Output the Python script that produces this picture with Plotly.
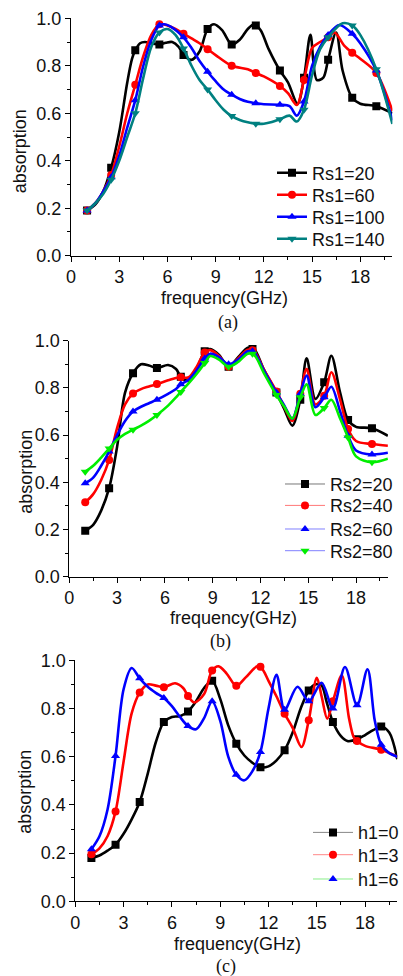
import plotly.graph_objects as go

# ---------------- data ----------------
marker_freq = [1, 2.5, 4, 5.5, 7, 8.5, 10, 11.5, 13, 14.5, 16, 17.5, 19]

# panel (a)
a_labels = ["Rs1=20", "Rs1=60", "Rs1=100", "Rs1=140"]
a20_x = [1, 1.5, 2, 2.5, 3, 3.5, 3.8, 4, 4.3, 4.6, 5, 5.5, 5.9, 6.3, 6.7, 7, 7.5, 8, 8.5, 8.9, 9.4, 10, 10.5, 11, 11.4, 11.8, 12.3, 13, 13.5, 14.1, 14.5, 14.9, 15.3, 15.7, 16, 16.5, 16.9, 17.5, 18, 19, 20]
a20_y = [0.19, 0.215, 0.27, 0.37, 0.52, 0.73, 0.83, 0.865, 0.895, 0.90, 0.895, 0.89, 0.897, 0.90, 0.88, 0.845, 0.825, 0.86, 0.955, 0.975, 0.95, 0.89, 0.91, 0.955, 0.975, 0.95, 0.87, 0.78, 0.73, 0.64, 0.75, 0.93, 0.74, 0.75, 0.825, 0.94, 0.78, 0.665, 0.64, 0.63, 0.60]
a60_x = [1, 1.5, 2, 2.5, 3, 3.5, 4, 4.5, 5, 5.5, 6, 6.5, 7, 7.5, 8, 8.5, 9, 10, 11, 11.5, 12, 13, 13.5, 14.05, 14.5, 15, 15.5, 16, 16.4, 17, 17.5, 18, 19, 20]
a60_y = [0.19, 0.22, 0.27, 0.34, 0.46, 0.60, 0.72, 0.84, 0.93, 0.975, 0.97, 0.955, 0.935, 0.915, 0.895, 0.87, 0.845, 0.80, 0.785, 0.77, 0.755, 0.715, 0.685, 0.635, 0.74, 0.875, 0.90, 0.92, 0.94, 0.885, 0.855, 0.83, 0.77, 0.61]
a100_x = [1, 1.5, 2, 2.5, 3, 3.5, 4, 4.5, 5, 5.5, 5.8, 6.2, 7, 7.5, 8, 8.5, 9, 9.5, 10, 10.5, 11, 11.5, 12, 13, 13.6, 14.05, 14.5, 15, 15.5, 16, 16.7, 17.5, 18, 19, 20]
a100_y = [0.19, 0.22, 0.27, 0.33, 0.42, 0.54, 0.655, 0.80, 0.91, 0.97, 0.975, 0.965, 0.92, 0.875, 0.82, 0.775, 0.735, 0.70, 0.678, 0.66, 0.648, 0.642, 0.638, 0.636, 0.63, 0.59, 0.65, 0.80, 0.88, 0.93, 0.972, 0.935, 0.895, 0.78, 0.57]
a140_x = [1, 1.5, 2, 2.5, 3, 3.5, 4, 4.5, 5, 5.5, 6, 6.5, 7, 7.5, 8, 8.5, 9, 9.5, 10, 10.5, 11, 11.5, 12, 12.5, 13, 13.6, 14.05, 14.5, 15, 15.5, 16, 16.9, 17.5, 18, 19, 20]
a140_y = [0.19, 0.22, 0.26, 0.32, 0.40, 0.50, 0.60, 0.75, 0.88, 0.94, 0.955, 0.93, 0.873, 0.80, 0.74, 0.70, 0.655, 0.615, 0.588, 0.572, 0.562, 0.556, 0.556, 0.563, 0.575, 0.59, 0.565, 0.615, 0.76, 0.87, 0.92, 0.979, 0.97, 0.93, 0.785, 0.555]
a20_mk = [0.19, 0.37, 0.865, 0.89, 0.845, 0.955, 0.89, 0.97, 0.78, 0.75, 0.825, 0.665, 0.63]
a60_mk = [0.19, 0.34, 0.72, 0.975, 0.935, 0.87, 0.80, 0.77, 0.715, 0.74, 0.92, 0.855, 0.77]
a100_mk = [0.19, 0.33, 0.655, 0.97, 0.92, 0.775, 0.678, 0.642, 0.636, 0.65, 0.93, 0.935, 0.78]
a140_mk = [0.19, 0.32, 0.60, 0.94, 0.873, 0.70, 0.588, 0.556, 0.575, 0.615, 0.92, 0.97, 0.785]

# panel (b)
b_labels = ["Rs2=20", "Rs2=40", "Rs2=60", "Rs2=80"]
b_x = [1, 1.5, 2, 2.5, 3, 3.5, 4, 4.5, 5, 5.5, 6.2, 6.7, 7, 7.5, 8, 8.5, 8.85, 9.4, 10, 10.6, 11.2, 11.6, 12.2, 13, 13.5, 14, 14.5, 14.9, 15.45, 16, 16.45, 17, 17.5, 18, 19, 20]
b20_y = [0.195, 0.22, 0.28, 0.375, 0.55, 0.78, 0.862, 0.90, 0.895, 0.884, 0.897, 0.88, 0.847, 0.83, 0.88, 0.955, 0.965, 0.94, 0.89, 0.93, 0.97, 0.965, 0.88, 0.78, 0.71, 0.64, 0.75, 0.925, 0.753, 0.824, 0.936, 0.78, 0.664, 0.635, 0.629, 0.597]
b40_y = [0.315, 0.35, 0.41, 0.495, 0.63, 0.73, 0.776, 0.795, 0.806, 0.816, 0.832, 0.842, 0.845, 0.845, 0.89, 0.95, 0.96, 0.935, 0.89, 0.925, 0.962, 0.955, 0.88, 0.785, 0.72, 0.66, 0.775, 0.88, 0.73, 0.767, 0.866, 0.75, 0.626, 0.575, 0.562, 0.555]
b60_y = [0.396, 0.42, 0.47, 0.53, 0.60, 0.66, 0.70, 0.72, 0.735, 0.75, 0.775, 0.795, 0.815, 0.835, 0.875, 0.925, 0.945, 0.93, 0.90, 0.92, 0.955, 0.95, 0.875, 0.78, 0.725, 0.67, 0.775, 0.852, 0.718, 0.76, 0.805, 0.70, 0.597, 0.535, 0.518, 0.525]
b80_y = [0.445, 0.47, 0.505, 0.543, 0.58, 0.605, 0.623, 0.64, 0.66, 0.685, 0.725, 0.76, 0.783, 0.82, 0.86, 0.905, 0.935, 0.92, 0.89, 0.91, 0.945, 0.94, 0.865, 0.77, 0.72, 0.67, 0.76, 0.815, 0.685, 0.715, 0.75, 0.67, 0.59, 0.51, 0.485, 0.50]
b20_mk = [0.195, 0.375, 0.862, 0.884, 0.847, 0.955, 0.89, 0.965, 0.78, 0.75, 0.824, 0.664, 0.629]
b40_mk = [0.315, 0.495, 0.776, 0.816, 0.845, 0.95, 0.89, 0.96, 0.785, 0.775, 0.767, 0.626, 0.562]
b60_mk = [0.396, 0.53, 0.70, 0.75, 0.815, 0.925, 0.90, 0.955, 0.78, 0.775, 0.76, 0.597, 0.518]
b80_mk = [0.445, 0.543, 0.623, 0.685, 0.783, 0.905, 0.89, 0.945, 0.77, 0.76, 0.715, 0.59, 0.485]

# panel (c)
c_labels = ["h1=0", "h1=3", "h1=6"]
c0_x = [1, 1.5, 2, 2.5, 3, 3.5, 4, 4.5, 5, 5.5, 6, 6.5, 7, 7.5, 8, 8.5, 9, 9.5, 10, 10.5, 11, 11.5, 12, 12.5, 13, 13.5, 14, 14.5, 14.9, 15.3, 15.6, 16, 16.5, 16.9, 17.5, 18, 18.5, 19, 19.5, 20]
c0_y = [0.18, 0.19, 0.21, 0.235, 0.28, 0.34, 0.412, 0.53, 0.66, 0.744, 0.765, 0.768, 0.788, 0.83, 0.885, 0.915, 0.84, 0.73, 0.654, 0.605, 0.575, 0.556, 0.56, 0.585, 0.627, 0.70, 0.80, 0.875, 0.90, 0.895, 0.83, 0.744, 0.685, 0.665, 0.672, 0.69, 0.71, 0.725, 0.70, 0.59]
c3_x = [1, 1.5, 2, 2.5, 3, 3.5, 4, 4.5, 5, 5.5, 6.2, 6.7, 7, 7.4, 8, 8.5, 8.9, 9.4, 10, 10.6, 11.3, 11.6, 12, 12.5, 13, 13.5, 14.05, 14.5, 15.0, 15.3, 15.65, 16, 16.55, 17, 17.3, 17.5, 18, 19, 20]
c3_y = [0.195, 0.22, 0.27, 0.373, 0.58, 0.78, 0.866, 0.90, 0.895, 0.888, 0.905, 0.885, 0.852, 0.825, 0.86, 0.958, 0.975, 0.945, 0.894, 0.93, 0.975, 0.965, 0.915, 0.85, 0.778, 0.72, 0.64, 0.751, 0.927, 0.85, 0.758, 0.83, 0.938, 0.76, 0.68, 0.665, 0.645, 0.629, 0.60]
c6_x = [1, 1.5, 2, 2.5, 3, 3.5, 4, 4.5, 5, 5.5, 6, 6.5, 7, 7.5, 8, 8.5, 9, 9.5, 10, 10.5, 11, 11.5, 12, 12.5, 13, 13.8, 14.5, 15.3, 16, 16.75, 17.5, 18.15, 18.6, 19, 19.5, 20]
c6_y = [0.216, 0.27, 0.38, 0.603, 0.88, 0.968, 0.925, 0.89, 0.865, 0.844, 0.81, 0.765, 0.727, 0.714, 0.76, 0.83, 0.75, 0.60, 0.525, 0.502, 0.54, 0.62, 0.80, 0.94, 0.795, 0.89, 0.83, 0.907, 0.80, 0.972, 0.813, 0.963, 0.75, 0.65, 0.615, 0.60]
c0_mk = [0.18, 0.235, 0.412, 0.744, 0.788, 0.915, 0.654, 0.556, 0.627, 0.875, 0.744, 0.672, 0.725]
c3_mk = [0.195, 0.373, 0.866, 0.888, 0.852, 0.958, 0.894, 0.973, 0.778, 0.751, 0.83, 0.665, 0.629]
c6_mk = [0.216, 0.603, 0.925, 0.844, 0.727, 0.83, 0.525, 0.62, 0.795, 0.83, 0.80, 0.813, 0.65]

x_ticks = [0, 3, 6, 9, 12, 15, 18]
y_ticks = [0.0, 0.2, 0.4, 0.6, 0.8, 1.0]

# ---------------- style ----------------
SANS = "Liberation Sans, Arial, sans-serif"
SERIF = "Liberation Serif, Times New Roman, serif"
FS = 18
TXT = "#111111"
BLACK, RED, BLUE, TEAL, GREEN = "#000000", "#FF0000", "#0000FF", "#008080", "#00EE00"

fig = go.Figure()

W, H = 403, 976

def px2x(p):
    return p / W

def px2y(p):
    return 1 - p / H

panels = [
    dict(xl=71.0, ppg=16.07, y0=255.7, y1=18.3),
    dict(xl=69.3, ppg=15.93, y0=576.7, y1=340.7),
    dict(xl=75.3, ppg=16.10, y0=901.3, y1=660.3),
]

series = [
    [
        (a20_x, a20_y, a20_mk, BLACK, "square", a_labels[0], BLACK, 2.5),
        (a60_x, a60_y, a60_mk, RED, "circle", a_labels[1], RED, 2.5),
        (a100_x, a100_y, a100_mk, BLUE, "triangle-up", a_labels[2], BLUE, 2.5),
        (a140_x, a140_y, a140_mk, TEAL, "triangle-down", a_labels[3], TEAL, 2.5),
    ],
    [
        (b_x, b20_y, b20_mk, BLACK, "square", b_labels[0], "#777777", 1),
        (b_x, b40_y, b40_mk, RED, "circle", b_labels[1], "#FF7777", 1),
        (b_x, b60_y, b60_mk, BLUE, "triangle-up", b_labels[2], "#8080FF", 1),
        (b_x, b80_y, b80_mk, GREEN, "triangle-down", b_labels[3], "#8080FF", 1),
    ],
    [
        (c0_x, c0_y, c0_mk, BLACK, "square", c_labels[0], "#888888", 1),
        (c3_x, c3_y, c3_mk, RED, "circle", c_labels[1], "#FF8888", 1),
        (c6_x, c6_y, c6_mk, BLUE, "triangle-up", c_labels[2], "#88EE88", 1),
    ],
]

legend_pos = [
    (282, [173, 195, 217, 239]),
    (290, [484.3, 505.7, 529.3, 551]),
    (318, [832.7, 855, 879.3]),
]
legend_itemwidth = [30, 40, 40]

layout = {}
leg_idx = 0
for i, (p, sers) in enumerate(zip(panels, series)):
    n = "" if i == 0 else str(i + 1)
    xa, ya = "x" + n, "y" + n
    layout["xaxis" + n] = dict(
        domain=[px2x(p["xl"]), px2x(p["xl"] + 20 * p["ppg"])],
        range=[0, 20], anchor=ya, tickvals=x_ticks, automargin=False,
        showline=True, linecolor="#000", linewidth=1, mirror=False,
        ticks="outside", ticklen=5, tickwidth=1, tickcolor="#000",
        minor=dict(dtick=1.5, tick0=0, ticks="outside", ticklen=3, tickcolor="#000"),
        showgrid=False, zeroline=False,
        tickfont=dict(family=SANS, size=FS, color=TXT),
    )
    layout["yaxis" + n] = dict(
        domain=[px2y(p["y0"]), px2y(p["y1"])],
        range=[0, 1], anchor=xa, tickvals=y_ticks, tickformat=".1f", automargin=False,
        showline=True, linecolor="#000", linewidth=1, mirror=False,
        ticks="outside", ticklen=5, tickwidth=1, tickcolor="#000",
        minor=dict(dtick=0.1, tick0=0, ticks="outside", ticklen=3, tickcolor="#000"),
        showgrid=False, zeroline=False,
        tickfont=dict(family=SANS, size=FS, color=TXT),
    )
    lx, rows = legend_pos[i]
    for j, (xs, ys, mk, col, sym, lab, legcol, legw) in enumerate(sers):
        fig.add_trace(go.Scatter(x=xs, y=ys, mode="lines", xaxis=xa, yaxis=ya,
                                 line=dict(color=col, width=2.6, shape="spline", smoothing=0.9),
                                 showlegend=False, hoverinfo="skip"))
        fig.add_trace(go.Scatter(x=marker_freq, y=mk, mode="markers", xaxis=xa, yaxis=ya,
                                 marker=dict(color=col, symbol=sym, size=8, line=dict(width=0)),
                                 showlegend=False))
        leg_idx += 1
        lname = "legend" if leg_idx == 1 else "legend" + str(leg_idx)
        fig.add_trace(go.Scatter(x=[None], y=[None], mode="lines+markers", xaxis=xa, yaxis=ya,
                                 name=lab, legend=lname,
                                 line=dict(color=legcol, width=legw),
                                 marker=dict(color=col, symbol=sym, size=8)))
        layout[lname] = dict(
            x=px2x(lx - 10), y=px2y(rows[j]), xanchor="left", yanchor="middle",
            bgcolor="rgba(0,0,0,0)", borderwidth=0,
            font=dict(family=SANS, size=FS, color=TXT),
            itemwidth=legend_itemwidth[i],
        )

captions = ["(a)", "(b)", "(c)"]
xtitle_pos = [(224, 297.5), (233, 618), (237, 944)]
ytitle_pos = [(19.5, 151.7), (26, 471.7), (25, 791.7)]
cap_pos = [(228, 322.5), (220.7, 641.5), (225.7, 966.5)]
annotations = []
for i in range(3):
    annotations.append(dict(text="frequency(GHz)", xref="paper", yref="paper",
                            x=px2x(xtitle_pos[i][0]), y=px2y(xtitle_pos[i][1]),
                            xanchor="center", yanchor="middle", showarrow=False,
                            font=dict(family=SANS, size=FS, color=TXT)))
    annotations.append(dict(text="absorption", xref="paper", yref="paper", textangle=-90,
                            x=px2x(ytitle_pos[i][0]), y=px2y(ytitle_pos[i][1]),
                            xanchor="center", yanchor="middle", showarrow=False,
                            font=dict(family=SANS, size=FS, color=TXT)))
    annotations.append(dict(text=captions[i], xref="paper", yref="paper",
                            x=px2x(cap_pos[i][0]), y=px2y(cap_pos[i][1]),
                            xanchor="center", yanchor="middle", showarrow=False,
                            font=dict(family=SERIF, size=FS, color=TXT)))

fig.update_layout(
    width=W, height=H, margin=dict(l=0, r=0, t=0, b=0, pad=0, autoexpand=False),
    paper_bgcolor="white", plot_bgcolor="white",
    annotations=annotations, **layout,
)

fig.write_html("out.html",
               config={"displayModeBar": False, "responsive": False},
               post_script="document.body.style.margin='0px';document.body.style.overflow='hidden';")
